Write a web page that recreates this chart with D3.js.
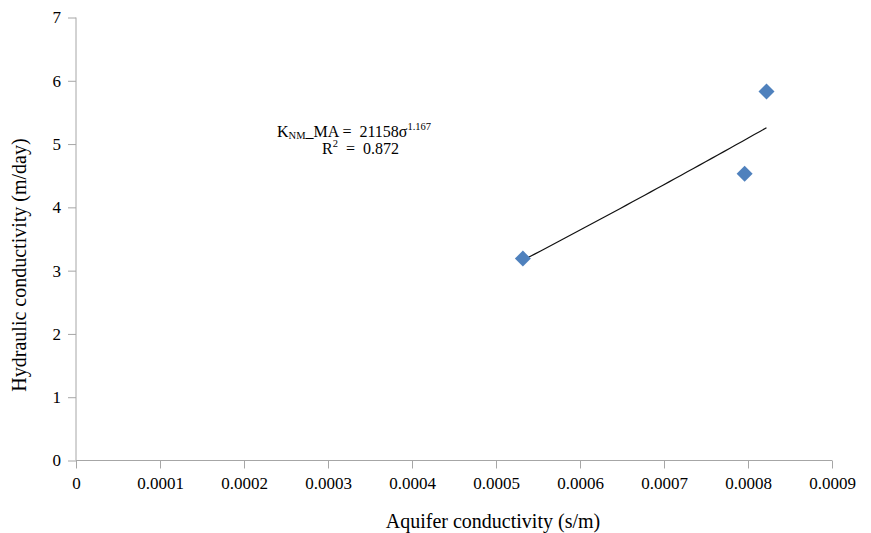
<!DOCTYPE html>
<html>
<head>
<meta charset="utf-8">
<script src="https://cdn.jsdelivr.net/npm/d3@7"></script>
<style>
  body { margin: 0; background: #fff; }
  svg text { font-family: 'Liberation Serif', 'Times New Roman', serif; fill: #000; }
</style>
</head>
<body>
<div id="wrapper"></div>
<script>
// data
const sigma = [0.000532, 0.000796, 0.000822]   // aquifer conductivity (s/m)
const kValues = [3.19, 4.53, 5.83]              // hydraulic conductivity (m/day)
const xTicks = [0, 0.0001, 0.0002, 0.0003, 0.0004, 0.0005, 0.0006, 0.0007, 0.0008, 0.0009]
const yTicks = [0, 1, 2, 3, 4, 5, 6, 7]

const serif = "'Liberation Serif', 'Times New Roman', serif"

const dimensions = {
  width: 871,
  height: 533,
  margin: { top: 17.5, right: 39, bottom: 72.5, left: 76 },
}
dimensions.boundedWidth = dimensions.width - dimensions.margin.left - dimensions.margin.right
dimensions.boundedHeight = dimensions.height - dimensions.margin.top - dimensions.margin.bottom

const wrapper = d3.select("#wrapper")
  .append("svg")
    .attr("width", dimensions.width)
    .attr("height", dimensions.height)
    .attr("font-family", serif)

const bounds = wrapper.append("g")
    .attr("transform", `translate(${dimensions.margin.left},${dimensions.margin.top})`)

const xScale = d3.scaleLinear()
    .domain([0, 0.0009])
    .range([0, dimensions.boundedWidth])
const yScale = d3.scaleLinear()
    .domain([0, 7])
    .range([dimensions.boundedHeight, 0])

const axisColor = "#a6a6a6"

const yAxis = bounds.append("g")
    .call(d3.axisLeft(yScale).tickValues(yTicks).tickFormat(d3.format("d")).tickSize(8).tickPadding(7))
    .attr("font-family", serif)
    .attr("font-size", 17)
yAxis.select(".domain").attr("stroke", axisColor).attr("d", `M0,${yScale(7)}V${yScale(0)}`)
yAxis.selectAll(".tick line").attr("stroke", axisColor)
yAxis.selectAll(".tick text")
    .attr("fill", "#000")
    .style("font-family", serif)
    .style("font-size", "17px")

const xAxis = bounds.append("g")
    .attr("transform", `translate(0,${dimensions.boundedHeight})`)
    .call(d3.axisBottom(xScale).tickValues(xTicks).tickFormat(d => d === 0 ? "0" : d3.format(".4f")(d)).tickSize(8).tickPadding(8))
    .attr("font-family", serif)
    .attr("font-size", 17)
xAxis.select(".domain").attr("stroke", axisColor).attr("d", `M0,0H${dimensions.boundedWidth}`)
xAxis.selectAll(".tick line").attr("stroke", axisColor)
xAxis.selectAll(".tick text")
    .attr("fill", "#000")
    .style("font-family", serif)
    .style("font-size", "17px")

// power trendline: least squares on log-log, like the spreadsheet does
const lx = sigma.map(Math.log), ly = kValues.map(Math.log)
const mx = d3.mean(lx), my = d3.mean(ly)
const fitB = d3.sum(lx, (v, i) => (v - mx) * (ly[i] - my)) / d3.sum(lx, v => (v - mx) ** 2)
const fitA = Math.exp(my - fitB * mx)
const xMin = d3.min(sigma), xMax = d3.max(sigma)
const fitPts = d3.range(0, 41).map(i => {
  const s = xMin + (xMax - xMin) * i / 40
  return [s, fitA * Math.pow(s, fitB)]
})
bounds.append("path")
    .attr("d", d3.line().x(d => xScale(d[0])).y(d => yScale(d[1]))(fitPts))
    .attr("fill", "none")
    .attr("stroke", "#111")
    .attr("stroke-width", 1.2)

// points (diamonds)
bounds.selectAll(".pt")
  .data(sigma)
  .join("path")
    .attr("class", "pt")
    .attr("d", d3.symbol(d3.symbolSquare, 128))
    .attr("transform", (d, i) => `translate(${xScale(d)},${yScale(kValues[i])}) rotate(45)`)
    .attr("fill", "#4f81bd")

// equation label
const eq = wrapper.append("text")
    .attr("x", 277)
    .attr("y", 137)
    .attr("font-size", 16)
    .style("white-space", "pre")
eq.append("tspan").text("K")
eq.append("tspan").text("NM").attr("font-size", 10.5).attr("dy", 2)
eq.append("tspan").text("_MA =  21158σ").attr("dy", -2)
eq.append("tspan").text("1.167").attr("font-size", 10.5).attr("dy", -7)

const r2 = wrapper.append("text")
    .attr("x", 322)
    .attr("y", 154)
    .attr("font-size", 16)
    .style("white-space", "pre")
r2.append("tspan").text("R")
r2.append("tspan").text("2").attr("font-size", 10.5).attr("dy", -7)
r2.append("tspan").text("  =  0.872").attr("dy", 7)

// axis titles
wrapper.append("text")
    .attr("x", 493)
    .attr("y", 528)
    .attr("text-anchor", "middle")
    .attr("font-size", 20)
    .text("Aquifer conductivity (s/m)")

wrapper.append("text")
    .attr("transform", `translate(26,265) rotate(-90)`)
    .attr("text-anchor", "middle")
    .attr("font-size", 20)
    .text("Hydraulic conductivity (m/day)")
</script>
</body>
</html>
